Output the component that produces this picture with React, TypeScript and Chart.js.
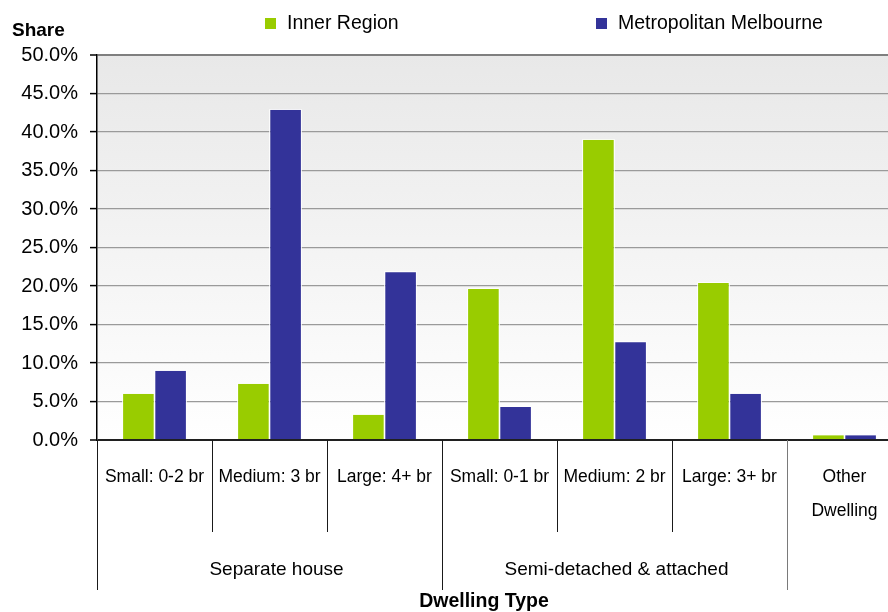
import React, { useEffect, useRef } from 'react';
import { Chart, registerables } from 'chart.js';

Chart.register(...registerables);

const categories: string[][] = [
  ['Small: 0-2 br'],
  ['Medium: 3 br'],
  ['Large: 4+ br'],
  ['Small: 0-1 br'],
  ['Medium: 2 br'],
  ['Large: 3+ br'],
  ['Other', 'Dwelling'],
];
const groupLabels = ['Separate house', 'Semi-detached & attached', ''];
const groupSpans = [3, 3, 1];
const innerRegion = [6.0, 7.3, 3.3, 19.6, 39.0, 20.4, 0.6];
const metroMelbourne = [9.0, 42.9, 21.8, 4.3, 12.7, 6.0, 0.6];
const seriesNames = ['Inner Region', 'Metropolitan Melbourne'];
const yMin = 0;
const yMax = 50;
const yStep = 5;
const yTitle = 'Share';
const xTitle = 'Dwelling Type';

const FONT = '"Liberation Sans", Arial, Helvetica, sans-serif';
const GREEN = '#99cc00';
const BLUE = '#333399';

const customPlugin = {
  id: 'customDecor',
  beforeDraw(chart: any) {
    const { ctx, chartArea } = chart;
    const g = ctx.createLinearGradient(0, chartArea.top, 0, chartArea.bottom);
    g.addColorStop(0, '#e8e8e8');
    g.addColorStop(1, '#ffffff');
    ctx.save();
    ctx.fillStyle = g;
    ctx.fillRect(chartArea.left, chartArea.top, chartArea.right - chartArea.left, chartArea.bottom - chartArea.top);
    ctx.restore();
  },
  afterDatasetsDraw(chart: any) {
    // soft light outline around the bars
    const { ctx } = chart;
    ctx.save();
    ctx.strokeStyle = 'rgba(255,255,255,0.8)';
    ctx.lineWidth = 1;
    chart.data.datasets.forEach((_: any, di: number) => {
      chart.getDatasetMeta(di).data.forEach((bar: any) => {
        const { x, y, base, width } = bar.getProps(['x', 'y', 'base', 'width'], true);
        const l = Math.round(x - width / 2) - 0.5;
        const r = Math.round(x + width / 2) + 0.5;
        const t = Math.round(y) - 0.5;
        ctx.beginPath();
        ctx.moveTo(l, base - 1);
        ctx.lineTo(l, t);
        ctx.lineTo(r, t);
        ctx.lineTo(r, base - 1);
        ctx.stroke();
      });
    });
    ctx.restore();
  },
  afterDraw(chart: any) {
    const { ctx, chartArea } = chart;
    const xs = chart.scales.x;
    const n = categories.length;
    const p0 = xs.getPixelForValue(0);
    const p1 = xs.getPixelForValue(1);
    const w = p1 - p0;
    const edge = (i: number) => xs.getPixelForValue(i) - w / 2;
    const base = chartArea.bottom;
    ctx.save();
    // separators
    const groupEnds: number[] = [];
    let acc = 0;
    groupSpans.forEach((s) => {
      acc += s;
      groupEnds.push(acc);
    });
    for (let i = 0; i <= n; i++) {
      const x = Math.round(edge(i)) + 0.5;
      const isOuter = i === 0 || groupEnds.includes(i);
      const y2 = isOuter ? 590 : 532;
      ctx.beginPath();
      ctx.strokeStyle = i === groupEnds[1] ? '#7a7a7a' : '#1a1a1a';
      ctx.lineWidth = 1;
      ctx.moveTo(x, base);
      ctx.lineTo(x, y2);
      ctx.stroke();
    }
    // category labels
    ctx.fillStyle = '#000';
    ctx.textAlign = 'center';
    ctx.textBaseline = 'middle';
    ctx.font = `17.5px ${FONT}`;
    categories.forEach((lines, i) => {
      const cx = xs.getPixelForValue(i);
      lines.forEach((t, j) => {
        ctx.fillText(t, cx, 477 + j * 34);
      });
    });
    // group labels
    ctx.font = `19px ${FONT}`;
    let start = 0;
    groupSpans.forEach((s, gi) => {
      const label = groupLabels[gi];
      if (label) {
        const cx = (edge(start) + edge(start + s)) / 2 + (gi === 0 ? 7 : 2);
        ctx.fillText(label, cx, 570);
      }
      start += s;
    });
    // axis titles
    ctx.font = `bold 19.5px ${FONT}`;
    ctx.fillText(xTitle, 484, 602);
    ctx.textAlign = 'left';
    ctx.font = `bold 19px ${FONT}`;
    ctx.fillText(yTitle, 12, 31);
    // legend
    const legendItems = [
      { x: 265, tx: 287 },
      { x: 596, tx: 618 },
    ];
    ctx.font = `19.5px ${FONT}`;
    chart.data.datasets.forEach((ds: any, i: number) => {
      const li = legendItems[i];
      ctx.fillStyle = ds.backgroundColor;
      ctx.fillRect(li.x, 18, 11, 11);
      ctx.fillStyle = '#000';
      ctx.textBaseline = 'middle';
      ctx.fillText(ds.label, li.tx, 24);
    });
    ctx.restore();
  },
};

export default function App() {
  const ref = useRef<HTMLCanvasElement | null>(null);
  useEffect(() => {
    if (!ref.current) return;
    const chart = new Chart(ref.current, {
      type: 'bar',
      data: {
        labels: categories.map((c) => c.join(' ')),
        datasets: [
          {
            label: seriesNames[0],
            data: innerRegion,
            backgroundColor: GREEN,
            borderWidth: 0,
            categoryPercentage: 0.56,
            barPercentage: 0.95,
          },
          {
            label: seriesNames[1],
            data: metroMelbourne,
            backgroundColor: BLUE,
            borderWidth: 0,
            categoryPercentage: 0.56,
            barPercentage: 0.95,
          },
        ],
      },
      options: {
        responsive: false,
        animation: false,
        events: [],
        layout: { padding: { left: 0, right: 0, top: 55, bottom: 172 } },
        plugins: {
          legend: { display: false },
          tooltip: { enabled: false },
          title: { display: false },
        },
        scales: {
          x: {
            display: false,
            offset: true,
          },
          y: {
            min: yMin,
            max: yMax,
            ticks: {
              stepSize: yStep,
              color: '#000',
              padding: 12,
              font: { family: FONT, size: 20 },
              callback: (v: any) => Number(v).toFixed(1) + '%',
            },
            grid: {
              color: (c: any) =>
                c.tick && c.tick.value === yMax ? '#7f7f7f' : c.tick && c.tick.value === yMin ? '#202020' : '#9a9a9a',
              lineWidth: (c: any) =>
                c.tick && (c.tick.value === yMax || c.tick.value === yMin) ? 2 : 1.2,
              tickColor: '#000',
              tickLength: 7,
              tickWidth: 1.5,
            },
            border: { color: '#000', width: 1.5 },
            afterFit: (s: any) => {
              s.width = 97;
            },
          },
        },
      },
      plugins: [customPlugin],
    } as any);
    return () => chart.destroy();
  }, []);
  return (
    <div style={{ position: 'fixed', left: 0, top: 0, width: 888, height: 612, overflow: 'hidden', background: '#fff' }}>
      <canvas ref={ref} width={902} height={612} style={{ width: 902, height: 612, display: 'block' }} />
    </div>
  );
}
